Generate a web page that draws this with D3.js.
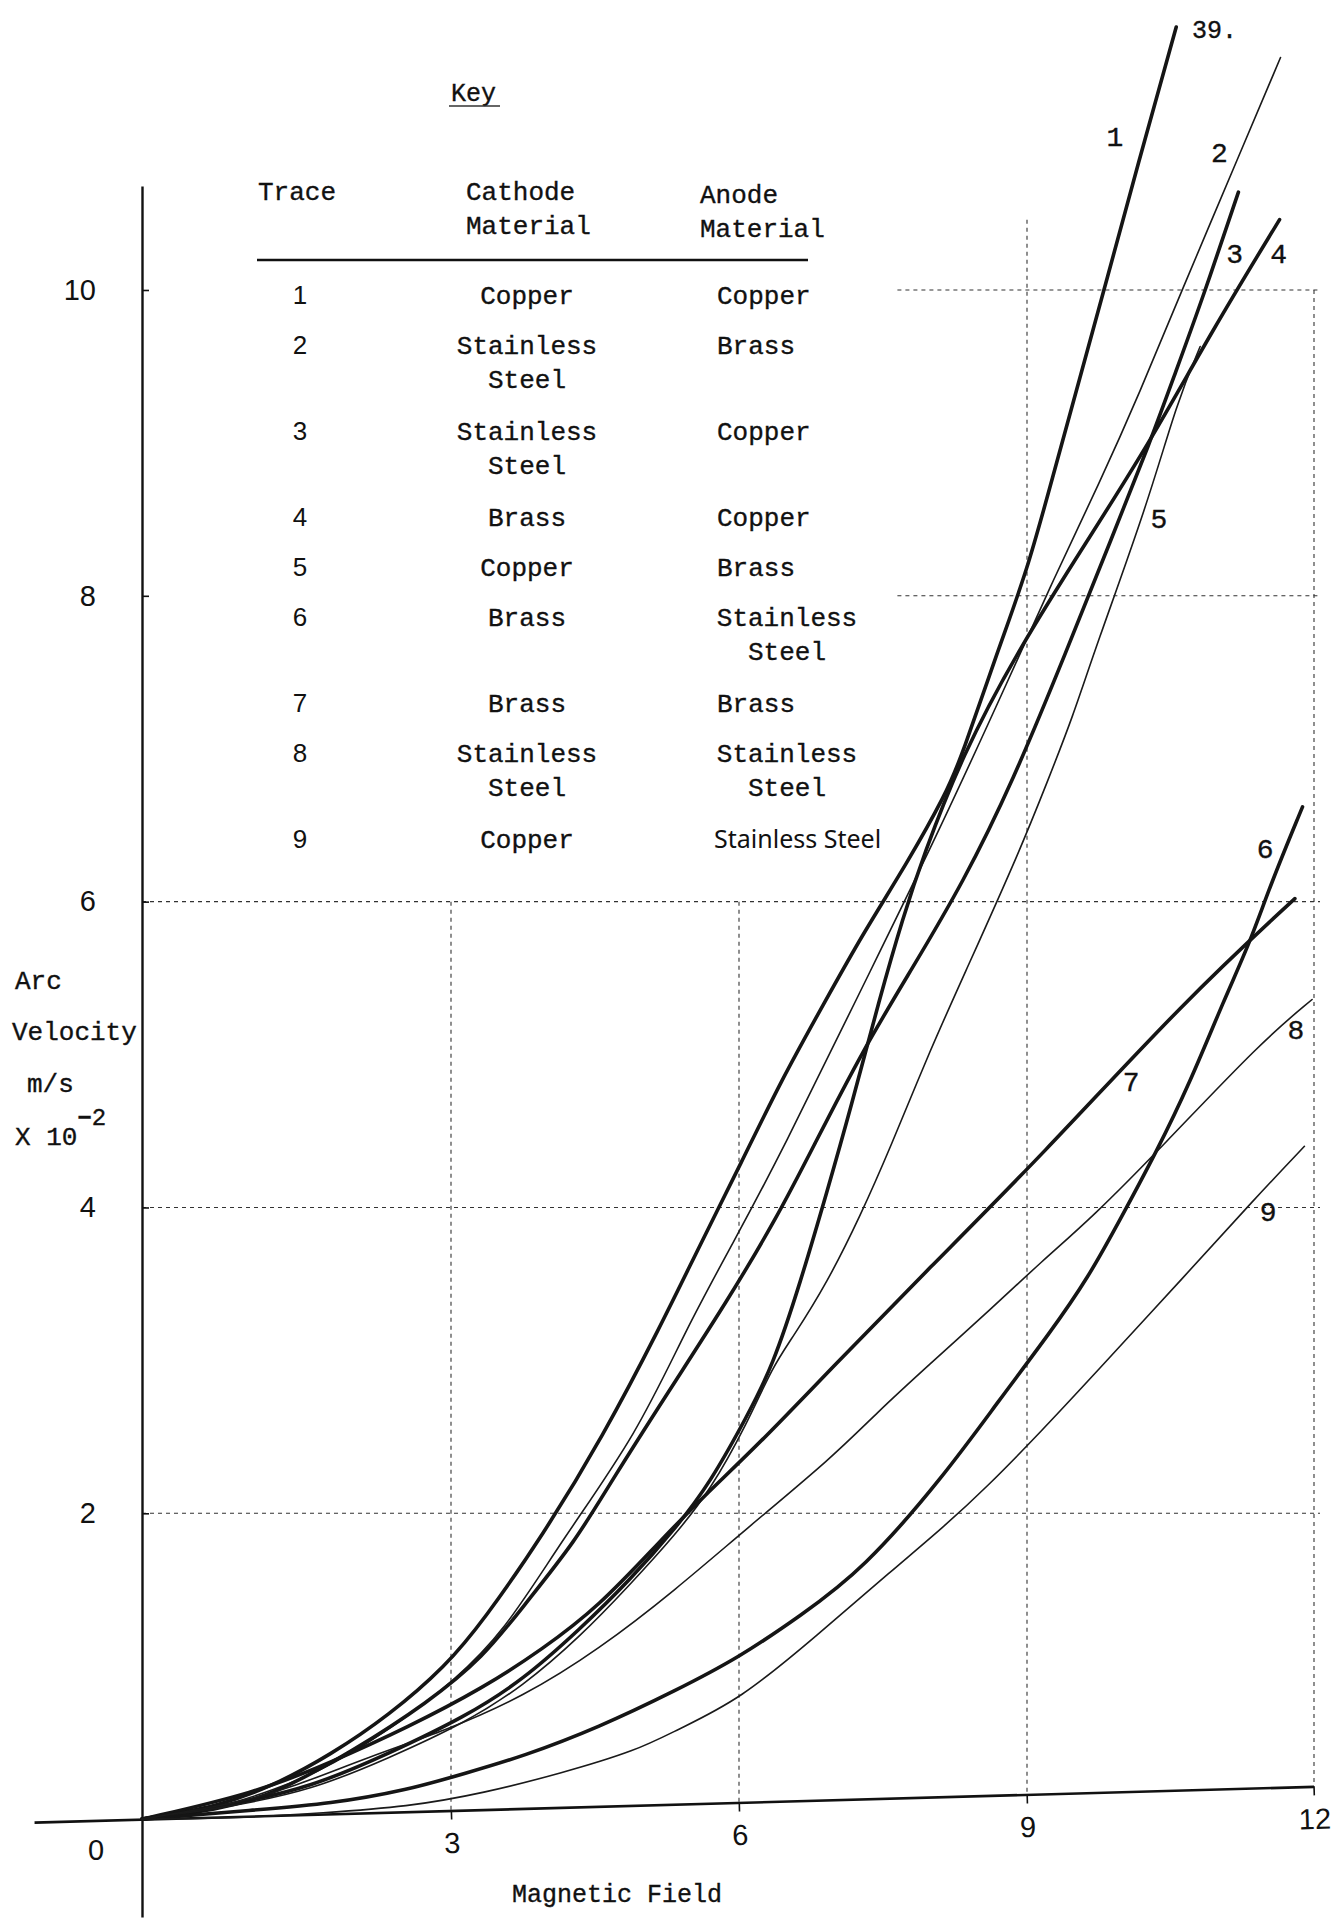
<!DOCTYPE html>
<html>
<head>
<meta charset="utf-8">
<script src="https://cdn.jsdelivr.net/npm/d3@7"></script>
<style>
  html, body { margin: 0; padding: 0; background: #fff; }
  svg { display: block; }
  .mono { font-family: "Liberation Mono", "DejaVu Sans Mono", monospace; fill: #111; stroke: #111; stroke-width: 0.35px; }
  .sans { font-family: "Liberation Sans", Arial, sans-serif; fill: #111; }
  .hand { font-family: "Noto Sans", "DejaVu Sans", sans-serif; fill: #111; }
</style>
</head>
<body>
<svg id="chart" width="1334" height="1920"></svg>
<script>
// Arc velocity (m/s x 10^-2) against magnetic field for nine electrode pairs.

const fieldTicks = [3, 6, 9, 12];
const velocityTicks = [2, 4, 6, 8, 10];

const traceNumbers = [1, 2, 3, 4, 5, 6, 7, 8, 9];
const cathodeMaterial = ["Copper", "Stainless\nSteel", "Stainless\nSteel", "Brass", "Copper",
                         "Brass", "Brass", "Stainless\nSteel", "Copper"];
const anodeMaterial = ["Copper", "Brass", "Copper", "Copper", "Brass",
                       "Stainless\nSteel", "Brass", "Stainless\nSteel", "Stainless Steel"];

// [field, velocity] readings along each trace
const trace1 = [[0,0],[0.73,0.08],[1.28,0.22],[1.83,0.42],[2.40,0.68],[2.95,1.00],[3.34,1.30],
  [3.95,1.85],[4.58,2.50],[5.18,3.22],[5.59,3.75],[6.03,4.30],[6.43,4.82],[6.89,5.34],[7.29,5.79],
  [7.75,6.25],[8.16,6.71],[8.32,6.95],[8.70,7.65],[9.00,8.16],[9.27,8.78],[9.55,9.42],[9.84,10.08],
  [10.15,10.80],[10.56,11.72]];
const trace2 = [[0,0],[0.73,0.07],[1.28,0.19],[1.83,0.34],[2.58,0.67],[3.00,0.89],[3.55,1.22],
  [4.15,1.82],[4.94,2.52],[5.46,3.22],[5.94,3.77],[6.46,4.38],[7.22,5.36],[8.04,6.40],[8.85,7.51],
  [9.27,8.10],[9.76,8.74],[10.18,9.33],[10.60,9.97],[11.23,10.90],[11.65,11.52]];
const trace3 = [[0,0],[0.73,0.06],[1.28,0.16],[2.06,0.45],[2.77,0.76],[3.34,1.06],[3.75,1.39],
  [4.30,1.82],[4.66,2.20],[5.28,2.81],[5.88,3.39],[6.40,3.94],[6.76,4.38],[7.29,5.03],[7.81,5.57],
  [8.33,6.12],[8.85,6.78],[9.42,7.65],[9.88,8.37],[10.29,9.01],[10.54,9.44],[10.85,9.97],[11.21,10.64]];
const trace4 = [[0,0],[0.85,0.09],[1.65,0.21],[2.40,0.43],[3.15,0.67],[3.75,0.91],[4.34,1.24],
  [4.86,1.56],[5.35,1.91],[5.70,2.20],[6.08,2.63],[6.35,2.96],[6.64,3.51],[6.92,4.11],[7.16,4.64],
  [7.47,5.38],[7.71,5.90],[7.92,6.30],[8.32,6.95],[8.91,7.65],[9.64,8.37],[10.29,9.01],[10.94,9.74],
  [11.64,10.46]];
const trace5 = [[0,0],[0.85,0.08],[1.65,0.19],[2.40,0.40],[3.15,0.63],[3.75,0.87],[4.34,1.19],
  [4.86,1.53],[5.35,1.87],[5.70,2.15],[6.08,2.58],[6.35,2.96],[6.56,3.15],[6.92,3.51],[7.26,3.94],
  [7.57,4.38],[7.99,5.03],[8.38,5.57],[8.93,6.34],[9.21,6.78],[9.48,7.21],[9.71,7.65],[10.26,8.60],
  [10.57,9.27],[10.81,9.63]];
const trace6 = [[0,0],[1.10,0.06],[1.83,0.10],[2.58,0.19],[3.15,0.30],[3.75,0.41],[4.54,0.60],
  [5.34,0.84],[6.01,1.06],[6.64,1.33],[7.29,1.63],[8.13,2.24],[8.71,2.74],[9.24,3.18],[9.64,3.54],
  [9.99,3.94],[10.35,4.36],[10.70,4.81],[11.06,5.36],[11.33,5.73],[11.55,6.12],[11.88,6.62]];
const trace7 = [[0,0],[1.10,0.17],[1.83,0.37],[2.58,0.60],[3.34,0.86],[3.95,1.11],[4.54,1.39],
  [5.18,1.82],[5.63,2.11],[6.22,2.46],[6.98,2.96],[7.96,3.59],[9.14,4.33],[10.66,5.36],[11.80,6.02]];
const trace8 = [[0,0],[0.91,0.10],[1.47,0.21],[2.21,0.41],[2.95,0.58],[3.75,0.80],[4.54,1.11],
  [5.34,1.50],[6.06,1.89],[6.98,2.37],[7.44,2.66],[7.96,2.96],[8.65,3.35],[9.14,3.64],[9.69,3.94],
  [10.40,4.39],[11.46,5.09],[11.98,5.36]];
const trace9 = [[0,0],[1.05,0.01],[1.73,0.04],[2.58,0.08],[3.34,0.17],[4.15,0.30],[4.94,0.45],
  [5.34,0.58],[6.01,0.78],[6.81,1.20],[7.60,1.63],[8.13,1.91],[8.58,2.17],[9.14,2.53],[9.69,2.90],
  [10.66,3.56],[11.37,4.05],[11.90,4.40]];

const traces = [trace1, trace2, trace3, trace4, trace5, trace6, trace7, trace8, trace9];

// where each trace number is written next to its curve, in [field, velocity]
const traceLabelAt = [[9.92,11.01],[11.01,10.90],[11.17,10.24],[11.63,10.24],[10.38,8.51],
  [11.49,6.35],[10.09,4.83],[11.81,5.17],[11.52,3.98]];

// ---------------------------------------------------------------------------
const svg = d3.select("#chart");
svg.append("rect").attr("width", 1334).attr("height", 1920).attr("fill", "#fff");

// The hand-ruled field divisions are not quite evenly spaced, so the scale is
// calibrated piecewise against each division.
const x = d3.scaleLinear()
  .domain([-1.05, 0, 3, 6, 9, 12])
  .range([34, 142, 451, 739, 1027, 1314]);
const y = d3.scaleLinear().domain([-0.64, 10.68]).range([1917, 186]);

// the field axis is ruled rising slightly to the right
const tilt = -1.6;
const tanTilt = Math.tan(-tilt * Math.PI / 180);
const baseY = v => y(0) - (x(v) - x(0)) * tanTilt;

// ---- dotted grid ----------------------------------------------------------
const grid = svg.append("g")
  .attr("fill", "none")
  .attr("stroke", "#333")
  .attr("stroke-width", 1.1)
  .attr("stroke-dasharray", "4 4");

velocityTicks.forEach(v => {
  const from = v >= 8 ? 7.65 : 0;
  grid.append("line")
    .attr("x1", x(from)).attr("x2", x(12) + 6)
    .attr("y1", y(v)).attr("y2", y(v));
});
fieldTicks.forEach(f => {
  const top = f <= 6 ? 6 : (f === 9 ? 10.46 : 10);
  grid.append("line")
    .attr("x1", x(f)).attr("x2", x(f))
    .attr("y1", y(top)).attr("y2", baseY(f));
});

// ---- axes -----------------------------------------------------------------
const yAxis = svg.append("g")
  .attr("transform", `translate(${x(0)},0)`)
  .call(d3.axisLeft(y).tickValues(velocityTicks).tickSize(-7).tickSizeOuter(0).tickPadding(46));
yAxis.select(".domain").attr("stroke", "#111").attr("stroke-width", 2.4);
yAxis.selectAll(".tick line").attr("stroke", "#111").attr("stroke-width", 1.6);
yAxis.selectAll(".tick text").attr("class", "sans").style("font-size", "29px");

const xAxis = svg.append("g")
  .attr("transform", `rotate(${tilt},${x(0)},${y(0)}) translate(0,${y(0)})`)
  .call(d3.axisBottom(x).tickValues(fieldTicks).tickSize(9).tickSizeOuter(0).tickPadding(13));
xAxis.select(".domain").attr("stroke", "#111").attr("stroke-width", 2.6);
xAxis.selectAll(".tick line").attr("stroke", "#111").attr("stroke-width", 1.6);
xAxis.selectAll(".tick text").attr("class", "sans").style("font-size", "29px");

svg.append("text").attr("class", "sans")
  .attr("x", x(0) - 46).attr("y", y(0) + 41)
  .attr("text-anchor", "middle").style("font-size", "29px").text("0");

// axis titles
const yTitle = svg.append("g").attr("class", "mono").style("font-size", "26px");
yTitle.append("text").attr("x", 15).attr("y", 989).text("Arc");
yTitle.append("text").attr("x", 12).attr("y", 1040).text("Velocity");
yTitle.append("text").attr("x", 27).attr("y", 1092).text("m/s");
const pow = yTitle.append("text").attr("x", 15).attr("y", 1145).text("X 10");
pow.append("tspan").attr("dy", -20).style("font-size", "24px").style("font-weight", "bold").text("\u2212");
pow.append("tspan").style("font-size", "24px").text("2");

svg.append("text").attr("class", "mono")
  .attr("x", 512).attr("y", 1902).style("font-size", "25px").text("Magnetic Field");

svg.append("text").attr("class", "mono")
  .attr("x", 1192).attr("y", 38).style("font-size", "25px").text("39.");

// ---- traces ---------------------------------------------------------------
const heavyPen = new Set([1, 3, 4, 6, 7]);
const line = d3.line().x(d => x(d[0])).y(d => y(d[1])).curve(d3.curveBasis);

svg.append("g").attr("fill", "none").attr("stroke-linecap", "round")
  .selectAll("path")
  .data(traces)
  .join("path")
  .attr("d", line)
  .attr("stroke", (d, i) => heavyPen.has(traceNumbers[i]) ? "#151515" : "#1a1a1a")
  .attr("stroke-width", (d, i) => heavyPen.has(traceNumbers[i]) ? 3.6 : 1.6);

svg.append("g").attr("class", "mono").style("font-size", "28px")
  .selectAll("text")
  .data(traceLabelAt)
  .join("text")
  .attr("x", d => x(d[0]))
  .attr("y", d => y(d[1]) + 10)
  .attr("text-anchor", "middle")
  .text((d, i) => traceNumbers[i]);

// ---- key ------------------------------------------------------------------
const key = svg.append("g");
key.append("text").attr("class", "mono").attr("x", 451).attr("y", 101)
  .style("font-size", "25px").text("Key");
key.append("line").attr("x1", 449).attr("x2", 500).attr("y1", 106).attr("y2", 106)
  .attr("stroke", "#333").attr("stroke-width", 1.5);

const head = key.append("g").attr("class", "mono").style("font-size", "26px");
head.append("text").attr("x", 258).attr("y", 200).text("Trace");
head.append("text").attr("x", 466).attr("y", 200).text("Cathode");
head.append("text").attr("x", 466).attr("y", 234).text("Material");
head.append("text").attr("x", 700).attr("y", 203).text("Anode");
head.append("text").attr("x", 700).attr("y", 237).text("Material");
key.append("line").attr("x1", 257).attr("x2", 808).attr("y1", 260).attr("y2", 260)
  .attr("stroke", "#111").attr("stroke-width", 2.6);

let rowY = 304;
traceNumbers.forEach((t, i) => {
  const cLines = cathodeMaterial[i].split("\n");
  const aLines = anodeMaterial[i].split("\n");
  key.append("text").attr("class", "sans").attr("x", 300).attr("y", rowY)
    .attr("text-anchor", "middle").style("font-size", "26px").text(t);
  cLines.forEach((s, j) => {
    key.append("text").attr("class", "mono").attr("x", 527).attr("y", rowY + j * 34)
      .attr("text-anchor", "middle").style("font-size", "26px").text(s);
  });
  if (aLines.length > 1) {
    aLines.forEach((s, j) => {
      key.append("text").attr("class", "mono").attr("x", 787).attr("y", rowY + j * 34)
        .attr("text-anchor", "middle").style("font-size", "26px").text(s);
    });
  } else if (aLines[0].includes(" ")) {
    key.append("text").attr("class", "hand").attr("x", 714).attr("y", rowY)
      .style("font-size", "25px").text(aLines[0]);
  } else {
    key.append("text").attr("class", "mono").attr("x", 717).attr("y", rowY)
      .style("font-size", "26px").text(aLines[0]);
  }
  rowY += Math.max(cLines.length, aLines.length) > 1 ? 86 : 50;
});
</script>
</body>
</html>
